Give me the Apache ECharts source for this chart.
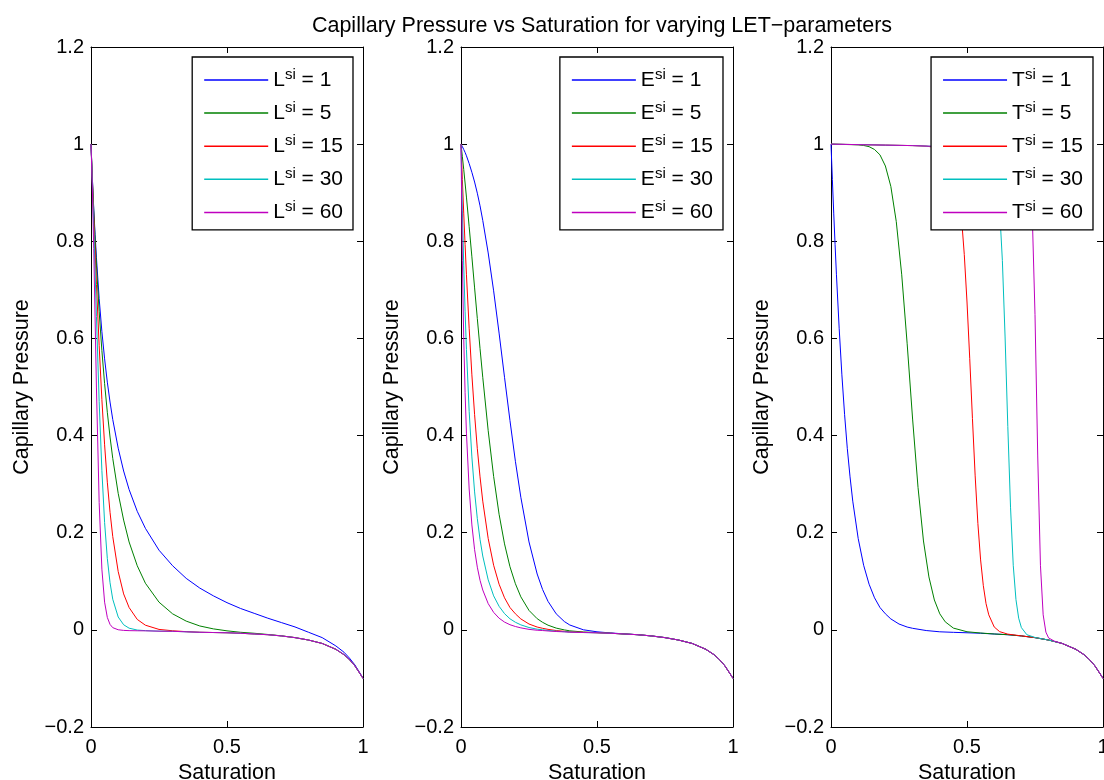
<!DOCTYPE html>
<html><head><meta charset="utf-8">
<script src="https://cdn.jsdelivr.net/npm/echarts@6/dist/echarts.min.js"></script>
<style>html,body{margin:0;padding:0;background:#fff;overflow:hidden}#c{width:1104px;height:780px}</style>
</head><body><div id="c"></div>
<script>
const titleText = 'Capillary Pressure vs Saturation for varying LET\u2212parameters';
const xLabel = 'Saturation';
const yLabel = 'Capillary Pressure';
const paramLetters = ['L', 'E', 'T'];
const paramValues = [1, 5, 15, 30, 60];
const seriesColors = ['#0000ff', '#008000', '#ff0000', '#00bfbf', '#bf00bf'];
const xTickLabels = ['0', '0.5', '1'];
const yTickLabels = ['\u22120.2', '0', '0.2', '0.4', '0.6', '0.8', '1', '1.2'];

// Plot 1: varying L
const satL = [0, 0.005, 0.01, 0.015, 0.02, 0.03, 0.04, 0.05, 0.06, 0.07, 0.08, 0.1, 0.12, 0.14, 0.17, 0.2, 0.25, 0.3, 0.35, 0.4, 0.45, 0.5, 0.55, 0.6, 0.65, 0.7, 0.75, 0.8, 0.85, 0.9, 0.93, 0.95, 0.97, 0.99, 1];
const pcL1 = [1, 0.930, 0.868, 0.814, 0.766, 0.682, 0.614, 0.558, 0.510, 0.469, 0.433, 0.374, 0.327, 0.289, 0.244, 0.209, 0.164, 0.132, 0.106, 0.086, 0.070, 0.056, 0.044, 0.034, 0.024, 0.015, 0.006, -0.005, -0.016, -0.033, -0.046, -0.058, -0.072, -0.090, -0.1];
const pcL5 = [1, 0.929, 0.864, 0.805, 0.751, 0.655, 0.575, 0.507, 0.448, 0.397, 0.353, 0.281, 0.226, 0.181, 0.132, 0.096, 0.057, 0.033, 0.018, 0.008, 0.002, -0.002, -0.005, -0.007, -0.0095, -0.0123, -0.016, -0.021, -0.028, -0.040, -0.051, -0.061, -0.074, -0.091, -0.1];
const pcL15 = [1, 0.925, 0.851, 0.780, 0.711, 0.585, 0.474, 0.381, 0.304, 0.242, 0.192, 0.120, 0.074, 0.046, 0.0215, 0.0096, 0.0009, -0.0019, -0.0037, -0.0049, -0.0055, -0.006, -0.007, -0.0085, -0.010, -0.0125, -0.016, -0.021, -0.028, -0.040, -0.051, -0.061, -0.074, -0.091, -0.1];
const pcL30 = [1, 0.920, 0.831, 0.739, 0.645, 0.470, 0.328, 0.221, 0.147, 0.097, 0.063, 0.0265, 0.0105, 0.0035, -0.0004, -0.0016, -0.0027, -0.003, -0.004, -0.005, -0.0055, -0.006, -0.007, -0.0085, -0.010, -0.0125, -0.016, -0.021, -0.028, -0.040, -0.051, -0.061, -0.074, -0.091, -0.1];
const pcL60 = [1, 0.908, 0.785, 0.642, 0.498, 0.262, 0.125, 0.057, 0.0256, 0.0112, 0.0045, 0.0002, -0.0011, -0.0016, -0.0019, -0.002, -0.0027, -0.003, -0.004, -0.005, -0.0055, -0.006, -0.007, -0.0085, -0.010, -0.0125, -0.016, -0.021, -0.028, -0.040, -0.051, -0.061, -0.074, -0.091, -0.1];

// Plot 2: varying E
const satE = [0, 0.005, 0.01, 0.015, 0.02, 0.03, 0.04, 0.05, 0.06, 0.07, 0.08, 0.1, 0.12, 0.14, 0.16, 0.18, 0.2, 0.22, 0.25, 0.28, 0.3, 0.32, 0.35, 0.38, 0.4, 0.45, 0.5, 0.55, 0.6, 0.65, 0.7, 0.75, 0.8, 0.85, 0.9, 0.93, 0.95, 0.97, 0.99, 1];
const pcE1 = [1, 0.995, 0.989, 0.983, 0.976, 0.960, 0.942, 0.922, 0.899, 0.873, 0.843, 0.776, 0.698, 0.611, 0.520, 0.431, 0.347, 0.273, 0.181, 0.115, 0.083, 0.0586, 0.033, 0.0171, 0.010, 0.0001, -0.004, -0.0064, -0.0083, -0.010, -0.0125, -0.016, -0.021, -0.028, -0.040, -0.051, -0.061, -0.074, -0.091, -0.1];
const pcE5 = [1, 0.974, 0.948, 0.920, 0.891, 0.830, 0.768, 0.704, 0.641, 0.579, 0.520, 0.410, 0.316, 0.238, 0.177, 0.130, 0.095, 0.068, 0.040, 0.023, 0.0155, 0.0096, 0.0036, -0.0001, -0.002, -0.0044, -0.0056, -0.007, -0.0085, -0.010, -0.0125, -0.016, -0.021, -0.028, -0.040, -0.051, -0.061, -0.074, -0.091, -0.1];
const pcE15 = [1, 0.927, 0.858, 0.793, 0.731, 0.621, 0.525, 0.443, 0.373, 0.315, 0.265, 0.188, 0.133, 0.094, 0.066, 0.046, 0.033, 0.0225, 0.012, 0.0058, 0.0032, 0.001, -0.0014, -0.003, -0.004, -0.0051, -0.006, -0.007, -0.0085, -0.010, -0.0125, -0.016, -0.021, -0.028, -0.040, -0.051, -0.061, -0.074, -0.091, -0.1];
const pcE30 = [1, 0.864, 0.751, 0.656, 0.577, 0.450, 0.356, 0.284, 0.229, 0.186, 0.152, 0.103, 0.070, 0.0485, 0.0334, 0.0228, 0.0156, 0.0103, 0.0048, 0.0014, 0.0001, -0.0012, -0.0027, -0.0038, -0.0045, -0.0055, -0.006, -0.007, -0.0085, -0.010, -0.0125, -0.016, -0.021, -0.028, -0.040, -0.051, -0.061, -0.074, -0.091, -0.1];
const pcE60 = [1, 0.760, 0.601, 0.489, 0.405, 0.290, 0.216, 0.165, 0.129, 0.102, 0.082, 0.054, 0.036, 0.024, 0.016, 0.0106, 0.0069, 0.0041, 0.001, -0.0008, -0.0014, -0.0023, -0.0034, -0.0041, -0.0048, -0.0055, -0.006, -0.007, -0.0085, -0.010, -0.0125, -0.016, -0.021, -0.028, -0.040, -0.051, -0.061, -0.074, -0.091, -0.1];

// Plot 3: varying T
const satT1 = [0, 0.005, 0.01, 0.015, 0.02, 0.03, 0.04, 0.05, 0.06, 0.07, 0.08, 0.1, 0.12, 0.14, 0.16, 0.18, 0.2, 0.22, 0.25, 0.28, 0.3, 0.35, 0.4, 0.45, 0.5, 0.55, 0.6, 0.65, 0.7, 0.75, 0.8, 0.85, 0.9, 0.93, 0.95, 0.97, 0.99, 1];
const pcT1 = [1, 0.927, 0.858, 0.793, 0.731, 0.621, 0.525, 0.443, 0.373, 0.315, 0.265, 0.188, 0.133, 0.094, 0.066, 0.046, 0.033, 0.0225, 0.012, 0.0058, 0.0032, -0.0014, -0.004, -0.0051, -0.006, -0.007, -0.0085, -0.010, -0.0125, -0.016, -0.021, -0.028, -0.040, -0.051, -0.061, -0.074, -0.091, -0.1];
const satT5 = [0, 0.05, 0.1, 0.12, 0.14, 0.16, 0.18, 0.2, 0.22, 0.24, 0.26, 0.28, 0.3, 0.32, 0.34, 0.36, 0.38, 0.4, 0.42, 0.45, 0.5, 0.55, 0.6, 0.65, 0.7, 0.75, 0.8, 0.85, 0.9, 0.93, 0.95, 0.97, 0.99, 1];
const pcT5 = [1, 0.9993, 0.9986, 0.9973, 0.9948, 0.989, 0.978, 0.955, 0.913, 0.8405, 0.731, 0.589, 0.434, 0.293, 0.183, 0.109, 0.0615, 0.033, 0.0165, 0.0036, -0.0039, -0.0065, -0.0085, -0.010, -0.0125, -0.016, -0.021, -0.028, -0.040, -0.051, -0.061, -0.074, -0.091, -0.1];
const satT15 = [0, 0.1, 0.2, 0.3, 0.35, 0.4, 0.42, 0.44, 0.46, 0.48, 0.49, 0.5, 0.51, 0.52, 0.53, 0.54, 0.55, 0.56, 0.57, 0.58, 0.6, 0.62, 0.65, 0.7, 0.75, 0.8, 0.85, 0.9, 0.93, 0.95, 0.97, 0.99, 1];
const pcT15 = [1, 0.999, 0.998, 0.997, 0.9958, 0.9923, 0.987, 0.973, 0.9365, 0.847, 0.773, 0.675, 0.559, 0.435, 0.317, 0.219, 0.144, 0.091, 0.054, 0.031, 0.006, -0.0037, -0.0088, -0.0124, -0.016, -0.021, -0.028, -0.040, -0.051, -0.061, -0.074, -0.091, -0.1];
const satT30 = [0, 0.1, 0.2, 0.3, 0.4, 0.5, 0.55, 0.58, 0.6, 0.62, 0.63, 0.64, 0.65, 0.66, 0.67, 0.68, 0.69, 0.7, 0.72, 0.75, 0.8, 0.85, 0.9, 0.93, 0.95, 0.97, 0.99, 1];
const pcT30 = [1, 0.999, 0.998, 0.997, 0.995, 0.994, 0.992, 0.985, 0.9605, 0.866, 0.7606, 0.603, 0.419, 0.2526, 0.133, 0.0623, 0.024, 0.0046, -0.010, -0.0157, -0.021, -0.028, -0.040, -0.051, -0.061, -0.074, -0.091, -0.1];
const satT60 = [0, 0.1, 0.2, 0.3, 0.4, 0.5, 0.6, 0.65, 0.7, 0.72, 0.73, 0.74, 0.75, 0.76, 0.77, 0.78, 0.79, 0.8, 0.82, 0.85, 0.9, 0.93, 0.95, 0.97, 0.99, 1];
const pcT60 = [1, 0.999, 0.998, 0.997, 0.995, 0.994, 0.9915, 0.990, 0.986, 0.972, 0.9415, 0.854, 0.649, 0.358, 0.133, 0.031, -0.0047, -0.0166, -0.023, -0.028, -0.040, -0.051, -0.061, -0.074, -0.091, -0.1];

const panels = [
  { sats: [satL, satL, satL, satL, satL], pcs: [pcL1, pcL5, pcL15, pcL30, pcL60] },
  { sats: [satE, satE, satE, satE, satE], pcs: [pcE1, pcE5, pcE15, pcE30, pcE60] },
  { sats: [satT1, satT5, satT15, satT30, satT60], pcs: [pcT1, pcT5, pcT15, pcT30, pcT60] }
];

const FONT = '"Liberation Sans", Arial, Helvetica, sans-serif';
const FS_TICK = 20, FS_LABEL = 21.5, FS_LEG = 21;
const gridLefts = [91, 461, 831];
const legendRights = [751, 381, 11];
const plotW = 272, plotTop = 47, plotH = 680;

const grids = [], xAxes = [], yAxes = [], series = [], legends = [];
panels.forEach((p, gi) => {
  grids.push({ left: gridLefts[gi], top: plotTop, width: plotW, height: plotH, containLabel: false, outerBoundsMode: 'none' });
  const axLine = { show: true, onZero: false, lineStyle: { color: '#000', width: 1 } };
  const axTick = { show: true, inside: true, length: 6, lineStyle: { color: '#000', width: 1 } };
  const tickStyle = { color: '#000', fontSize: FS_TICK, fontFamily: FONT };
  const nameStyle = { color: '#000', fontSize: FS_LABEL, fontFamily: FONT };
  xAxes.push({
    type: 'value', gridIndex: gi, position: 'bottom', min: 0, max: 1, interval: 0.5,
    axisLine: axLine, axisTick: axTick, splitLine: { show: false },
    axisLabel: Object.assign({ margin: 10, hideOverlap: false, formatter: v => xTickLabels[Math.round(v / 0.5)] }, tickStyle),
    name: xLabel, nameLocation: 'middle', nameGap: 34, nameTextStyle: nameStyle
  });
  xAxes.push({
    type: 'value', gridIndex: gi, position: 'top', min: 0, max: 1, interval: 0.5,
    axisLine: axLine, axisTick: axTick, splitLine: { show: false }, axisLabel: { show: false }
  });
  yAxes.push({
    type: 'value', gridIndex: gi, position: 'left', min: -0.2, max: 1.2, interval: 0.2,
    axisLine: axLine, axisTick: axTick, splitLine: { show: false },
    axisLabel: Object.assign({ margin: 7, formatter: v => yTickLabels[Math.round((v + 0.2) / 0.2)] }, tickStyle),
    name: yLabel, nameLocation: 'middle', nameGap: 58, nameTextStyle: nameStyle
  });
  yAxes.push({
    type: 'value', gridIndex: gi, position: 'right', min: -0.2, max: 1.2, interval: 0.2,
    axisLine: axLine, axisTick: axTick, splitLine: { show: false }, axisLabel: { show: false }
  });
  const names = [];
  p.sats.forEach((sat, si) => {
    const name = paramLetters[gi] + '|' + paramValues[si];
    names.push(name);
    series.push({
      name: name, type: 'line', xAxisIndex: gi * 2, yAxisIndex: gi * 2,
      data: sat.map((s, k) => [s, p.pcs[si][k]]),
      showSymbol: false, symbol: 'none', smooth: false, animation: false,
      color: seriesColors[si],
      lineStyle: { color: seriesColors[si], width: 1 },
      itemStyle: { color: seriesColors[si] }
    });
  });
  legends.push({
    orient: 'vertical', right: legendRights[gi], top: 57,
    data: names, icon: 'rect', itemWidth: 64, itemHeight: 1.5, itemGap: 9.6,
    padding: [10, 10, 7, 12], borderColor: '#000', borderWidth: 1.3, borderRadius: 0,
    backgroundColor: '#fff', selectedMode: false, z: 10,
    formatter: n => { const parts = n.split('|'); return '{b|' + parts[0] + '}{s|si}{b| = ' + parts[1] + '}'; },
    textStyle: {
      color: '#000', fontFamily: FONT, fontSize: FS_LEG,
      rich: {
        b: { fontSize: FS_LEG, lineHeight: 26, fontFamily: FONT, color: '#000' },
        s: { fontSize: 15, verticalAlign: 'top', lineHeight: 15, fontFamily: FONT, color: '#000' }
      }
    }
  });
});

const chart = echarts.init(document.getElementById('c'), null, { renderer: 'canvas' });
chart.setOption({
  backgroundColor: '#fff',
  animation: false,
  title: {
    text: titleText, left: 597, top: 10, textAlign: 'center',
    textStyle: { color: '#000', fontWeight: 'normal', fontSize: FS_LABEL, fontFamily: FONT }
  },
  grid: grids, xAxis: xAxes, yAxis: yAxes, legend: legends, series: series
});
</script></body></html>
